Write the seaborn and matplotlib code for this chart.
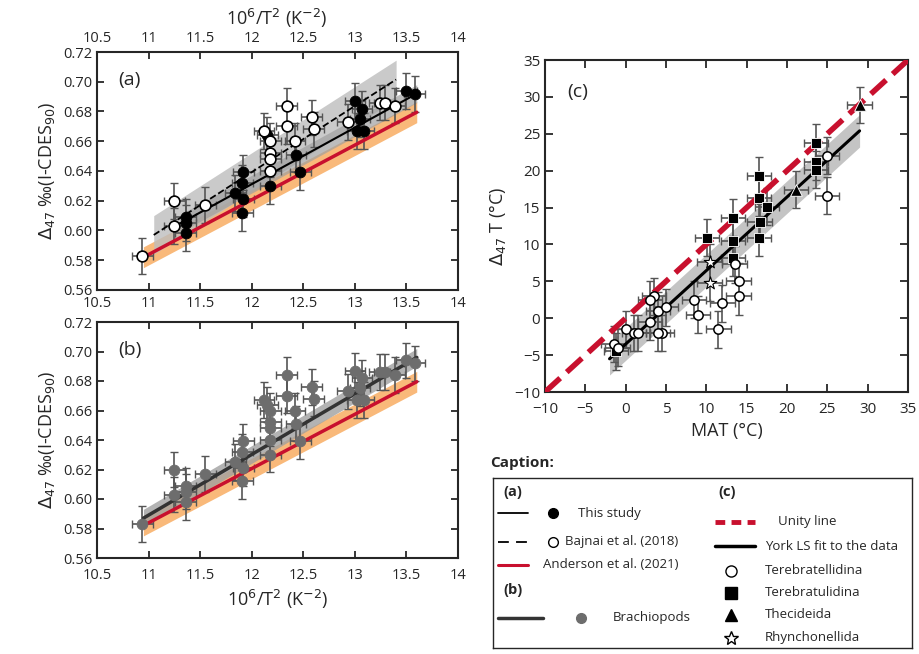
import numpy as np
import pandas as pd
import matplotlib
matplotlib.use("Agg")
import matplotlib.pyplot as plt
import seaborn as sns
from matplotlib.lines import Line2D

sns.set_style("ticks")
plt.rcParams['font.family'] = ['Open Sans', 'DejaVu Sans']

# ---- data panel (a)/(b)
this_x = [11.36, 11.36, 11.36, 11.84, 11.91, 11.92, 11.92, 11.91, 12.15, 12.18, 12.43, 12.47, 13.0, 13.07, 13.05, 13.02, 13.09, 13.5, 13.58]
this_y = [0.609, 0.605, 0.598, 0.625, 0.632, 0.639, 0.621, 0.612, 0.664, 0.630, 0.651, 0.639, 0.687, 0.682, 0.675, 0.667, 0.667, 0.694, 0.692]
baj_x = [10.94, 11.25, 11.25, 11.55, 12.12, 12.18, 12.18, 12.18, 12.18, 12.34, 12.34, 12.42, 12.58, 12.60, 12.93, 13.24, 13.29, 13.39]
baj_y = [0.583, 0.620, 0.603, 0.617, 0.667, 0.660, 0.652, 0.648, 0.640, 0.684, 0.670, 0.660, 0.676, 0.668, 0.673, 0.686, 0.686, 0.684]
this_fit_x = [11.3, 13.6]; this_fit_y = [0.6045, 0.692]
baj_fit_x = [11.05, 13.4]; baj_fit_y = [0.597, 0.7015]
and_fit_x = [10.95, 13.6]; and_fit_y = [0.582, 0.6795]
bra_fit_x = [10.95, 13.6]; bra_fit_y = [0.587, 0.696]

# ---- data panel (c)
sq_x = [23.6, 23.6, 23.6, 16.5, 16.5, 17.5, 16.6, 16.5, 13.3, 13.3, 13.3, 10.1, -1.2]
sq_y = [23.8, 21.2, 20.1, 19.3, 16.3, 15.1, 13.0, 10.9, 13.6, 10.5, 8.2, 10.9, -4.5]
tri_x = [29.0, 21.1]; tri_y = [28.9, 17.4]
cir_x = [25.0, 25.0, 14.0, 14.0, 13.5, 12.0, 11.5, 9.0, 8.5, 4.0, 4.5, 5.0, 3.5, 3.0, 0.0, -1.5, 1.0, 1.5, -1.0, 3.0, 4.0]
cir_y = [22.0, 16.6, 5.0, 3.0, 7.3, 2.0, -1.5, 0.5, 2.5, 1.0, -2.0, 1.5, 3.0, 2.5, -1.5, -3.5, -2.0, -2.0, -4.0, -0.5, -2.0]
star_x = [10.4, 10.4]; star_y = [7.6, 4.8]
unity_x = [-10, 35]
york_x = [-2.0, 29.0]; york_y = [-5.5, 25.4]

fig = plt.figure(figsize=(9.2, 6.54), dpi=100)
W, H = 920, 654
def ax_at(l, t, r, b):
    return fig.add_axes([l / W, 1 - b / H, (r - l) / W, (b - t) / H])

ecol = '#555555'
def band(ax, x, y, w0, w1, color, alpha=1):
    xs = np.array(x); ys = np.array(y)
    ax.fill_between(xs, ys - np.array([w0, w1]), ys + np.array([w0, w1]), color=color, alpha=alpha, lw=0, zorder=1)

def ab_panel(ax, label, mode):
    ax.set_xlim(10.5, 14); ax.set_ylim(0.56, 0.72)
    band(ax, and_fit_x, and_fit_y, 0.007, 0.007, '#f9b97a')
    if mode == 'a':
        band(ax, baj_fit_x, baj_fit_y, 0.013, 0.013, '#bdbdbd', 0.8)
        band(ax, this_fit_x, this_fit_y, 0.006, 0.006, '#a0a0a0', 0.7)
    else:
        band(ax, bra_fit_x, bra_fit_y, 0.006, 0.006, '#a0a0a0', 0.8)
    xall = this_x + baj_x; yall = this_y + baj_y
    ax.errorbar(xall, yall, xerr=0.1, yerr=0.012, fmt='none', ecolor=ecol, elinewidth=1.2, capsize=3, zorder=2)
    sns.lineplot(x=and_fit_x, y=and_fit_y, ax=ax, color='#c8102e', lw=2.5, zorder=3)
    if mode == 'a':
        sns.lineplot(x=this_fit_x, y=this_fit_y, ax=ax, color='black', lw=1.5, zorder=3)
        sns.lineplot(x=baj_fit_x, y=baj_fit_y, ax=ax, color='black', lw=1.3, zorder=3, dashes=(6, 4), linestyle='--')
        sns.scatterplot(x=this_x, y=this_y, ax=ax, color='black', s=60, edgecolor='black', zorder=4)
        sns.scatterplot(x=baj_x, y=baj_y, ax=ax, color='white', s=60, edgecolor='black', linewidth=1.2, zorder=4)
    else:
        sns.lineplot(x=bra_fit_x, y=bra_fit_y, ax=ax, color='#333333', lw=2.5, zorder=3)
        sns.scatterplot(x=xall, y=yall, ax=ax, color='#6d6d6d', s=60, edgecolor='#6d6d6d', zorder=4)
    ax.set_xticks([10.5, 11, 11.5, 12, 12.5, 13, 13.5, 14])
    ax.set_xticklabels(['10.5', '11', '11.5', '12', '12.5', '13', '13.5', '14'])
    ax.set_yticks(np.arange(0.56, 0.7201, 0.02))
    ax.set_yticklabels([f'{v:.2f}' for v in np.arange(0.56, 0.7201, 0.02)])
    ax.tick_params(direction='in', labelsize=10.5, width=1.3, length=5, top=True, right=True)
    ax.tick_params(axis='x', pad=7)
    for s in ax.spines.values(): s.set_linewidth(1.5)
    ax.text(0.06, 0.92, label, transform=ax.transAxes, fontsize=14, va='top')
    ax.set_ylabel(r'$\Delta_{47}$ ‰(I-CDES$_{90}$)', fontsize=13)

axa = ax_at(97, 52, 458, 290)
ab_panel(axa, '(a)', 'a')
axa.tick_params(labeltop=True, labelbottom=True)
axa.tick_params(axis='x', which='both', pad=4)
axa.set_xlabel('')
fig.text(277 / W, 1 - 18 / H, r'10$^6$/T$^2$ (K$^{-2}$)', ha='center', va='center', fontsize=13)

axb = ax_at(97, 322, 458, 558)
ab_panel(axb, '(b)', 'b')
axb.set_xlabel(r'10$^6$/T$^2$ (K$^{-2}$)', fontsize=13)

# panel c
axc = ax_at(545, 60, 908, 392)
axc.set_xlim(-10, 35); axc.set_ylim(-10, 35)
yx = np.array(york_x); yy = np.array(york_y)
axc.fill_between(yx, yy - np.array([2.2, 2.2]), yy + np.array([2.2, 2.2]), color='#c4c4c4', lw=0, zorder=1)
allx = sq_x + tri_x + cir_x + star_x; ally = sq_y + tri_y + cir_y + star_y
axc.errorbar(allx, ally, xerr=1.5, yerr=2.5, fmt='none', ecolor=ecol, elinewidth=1.2, capsize=3, zorder=2)
sns.lineplot(x=unity_x, y=unity_x, ax=axc, color='#c8102e', lw=4, zorder=3, dashes=(3, 2), linestyle='--')
sns.lineplot(x=york_x, y=york_y, ax=axc, color='black', lw=2.2, zorder=3)
sns.scatterplot(x=sq_x, y=sq_y, ax=axc, marker='s', color='black', s=60, zorder=4)
sns.scatterplot(x=tri_x, y=tri_y, ax=axc, marker='^', color='black', s=70, zorder=4)
sns.scatterplot(x=cir_x, y=cir_y, ax=axc, marker='o', color='white', edgecolor='black', linewidth=1.1, s=45, zorder=4)
sns.scatterplot(x=star_x, y=star_y, ax=axc, marker='*', color='white', edgecolor='black', linewidth=0.8, s=90, zorder=4)
axc.set_xticks(range(-10, 36, 5)); axc.set_yticks(range(-10, 36, 5))
axc.tick_params(direction='in', labelsize=11, width=1.3, length=6, top=True, right=True)
axc.tick_params(axis='x', pad=7)
for s in axc.spines.values(): s.set_linewidth(1.5)
axc.text(0.06, 0.93, '(c)', transform=axc.transAxes, fontsize=14, va='top')
axc.set_xlabel('MAT (°C)', fontsize=13)
axc.set_ylabel(r'$\Delta_{47}$ T (°C)', fontsize=13)

# caption
cap = fig.add_axes([493 / W, 1 - 648 / H, (912 - 493) / W, (648 - 478) / H])
cap.set_xlim(0, 419); cap.set_ylim(170, 0)
cap.set_xticks([]); cap.set_yticks([])
for s in cap.spines.values(): s.set_linewidth(1)
fig.text(490 / W, 1 - 463 / H, 'Caption:', fontsize=11, fontweight='bold', va='center')
fs = 9.5
cap.text(10, 14, '(a)', fontsize=10.5, fontweight='bold', va='center')
cap.text(225, 14, '(c)', fontsize=10.5, fontweight='bold', va='center')
cap.add_line(Line2D([5, 35], [35, 35], color='black', lw=1.3))
cap.plot(60, 35, 'o', color='black', ms=7)
cap.text(85, 35, 'This study', fontsize=fs, va='center')
cap.add_line(Line2D([5, 35], [64, 64], color='black', lw=1.3, ls=(0, (6, 4))))
cap.plot(60, 64, 'o', mfc='white', mec='black', ms=7)
cap.text(72, 64, 'Bajnai et al. (2018)', fontsize=fs, va='center')
cap.add_line(Line2D([5, 35], [87, 87], color='#c8102e', lw=2.2))
cap.text(50, 87, 'Anderson et al. (2021)', fontsize=fs, va='center')
cap.text(10, 112, '(b)', fontsize=10.5, fontweight='bold', va='center')
cap.add_line(Line2D([5, 50], [140, 140], color='#333333', lw=2.5))
cap.plot(88, 140, 'o', color='#6d6d6d', ms=7)
cap.text(120, 140, 'Brachiopods', fontsize=fs, va='center')
cap.add_line(Line2D([222, 262], [44, 44], color='#c8102e', lw=3.5, ls=(0, (2, 1.3))))
cap.text(285, 44, 'Unity line', fontsize=fs, va='center')
cap.add_line(Line2D([222, 262], [68, 68], color='black', lw=2.5))
cap.text(272, 68, 'York LS fit to the data', fontsize=fs, va='center')
for yy_, m, fc, lab in [(93, 'o', 'white', 'Terebratellidina'), (115, 's', 'black', 'Terebratulidina'),
                        (137, '^', 'black', 'Thecideida'), (160, '*', 'white', 'Rhynchonellida')]:
    cap.plot(238, yy_, m, mfc=fc, mec='black', ms=8 if m != '*' else 10)
    cap.text(272, yy_, lab, fontsize=fs, va='center')

fig.savefig('out.png', dpi=100)
